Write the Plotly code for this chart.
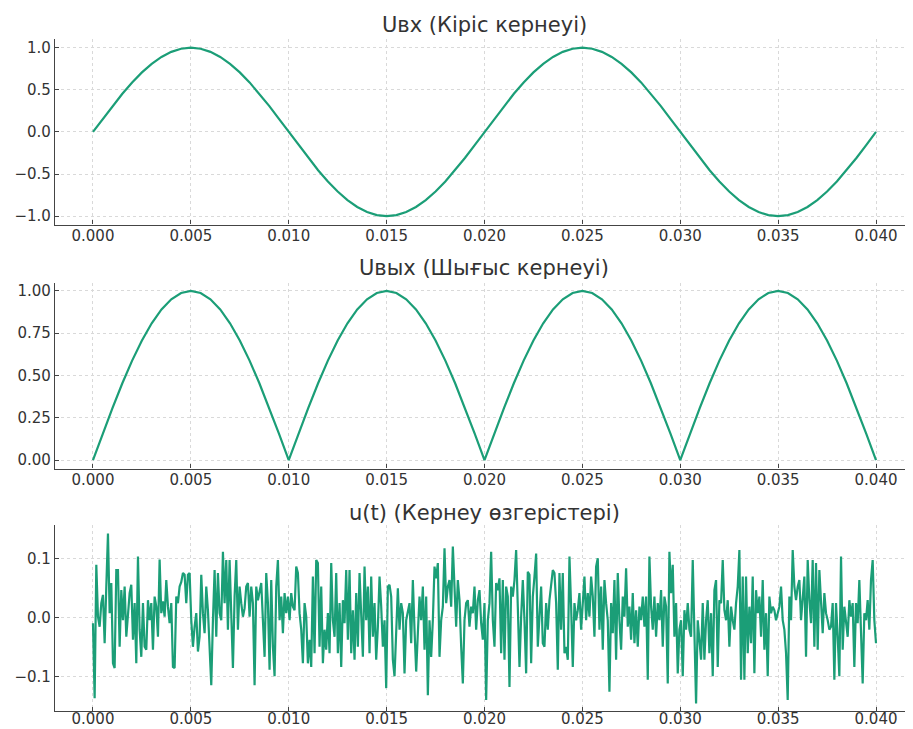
import numpy as np
import plotly.graph_objects as go

# ---------------- data ----------------
x_ticks = [0.000, 0.005, 0.010, 0.015, 0.020, 0.025, 0.030, 0.035, 0.040]
x_tick_labels = ["0.000", "0.005", "0.010", "0.015", "0.020", "0.025", "0.030", "0.035", "0.040"]

titles = ["Uвх (Кіріс кернеуі)", "Uвых (Шығыс кернеуі)", "u(t) (Кернеу өзгерістері)"]

# time samples for the two smooth curves (0 .. 0.04 s, step 0.0005)
t_smooth = [round(i * 0.0005, 4) for i in range(81)]

u_in = [0.0, 0.156, 0.309, 0.454, 0.588, 0.707, 0.809, 0.891, 0.951, 0.988,
        1.0, 0.988, 0.951, 0.891, 0.809, 0.707, 0.588, 0.454, 0.309, 0.156,
        0.0, -0.156, -0.309, -0.454, -0.588, -0.707, -0.809, -0.891, -0.951, -0.988,
        -1.0, -0.988, -0.951, -0.891, -0.809, -0.707, -0.588, -0.454, -0.309, -0.156,
        0.0, 0.156, 0.309, 0.454, 0.588, 0.707, 0.809, 0.891, 0.951, 0.988,
        1.0, 0.988, 0.951, 0.891, 0.809, 0.707, 0.588, 0.454, 0.309, 0.156,
        0.0, -0.156, -0.309, -0.454, -0.588, -0.707, -0.809, -0.891, -0.951, -0.988,
        -1.0, -0.988, -0.951, -0.891, -0.809, -0.707, -0.588, -0.454, -0.309, -0.156,
        0.0]

u_out = [0.0, 0.156, 0.309, 0.454, 0.588, 0.707, 0.809, 0.891, 0.951, 0.988,
         1.0, 0.988, 0.951, 0.891, 0.809, 0.707, 0.588, 0.454, 0.309, 0.156,
         0.0, 0.156, 0.309, 0.454, 0.588, 0.707, 0.809, 0.891, 0.951, 0.988,
         1.0, 0.988, 0.951, 0.891, 0.809, 0.707, 0.588, 0.454, 0.309, 0.156,
         0.0, 0.156, 0.309, 0.454, 0.588, 0.707, 0.809, 0.891, 0.951, 0.988,
         1.0, 0.988, 0.951, 0.891, 0.809, 0.707, 0.588, 0.454, 0.309, 0.156,
         0.0, 0.156, 0.309, 0.454, 0.588, 0.707, 0.809, 0.891, 0.951, 0.988,
         1.0, 0.988, 0.951, 0.891, 0.809, 0.707, 0.588, 0.454, 0.309, 0.156,
         0.0]

# noisy voltage variations, read left to right in four stretches
noise_part1 = [-0.01, -0.137, 0.089, 0.001, -0.016, 0.024, 0.038, -0.044, 0.052, 0.142,
               0.007, 0.058, -0.078, -0.086, 0.08, 0.08, -0.05, 0.046, -0.005, 0.052,
               -0.033, 0.012, 0.041, 0.055, -0.038, 0.024, -0.078, 0.103, -0.021, -0.067,
               0.024, -0.05, -0.055, 0.029, -0.005, 0.024, -0.055, 0.035, 0.018, -0.033,
               0.098, 0.007, 0.027, 0.001, 0.063, 0.018, -0.01, 0.024, -0.084, -0.086,
               0.035, 0.024, 0.052, 0.06, 0.075, 0.072, 0.024, 0.072, 0.075, -0.005,
               -0.05, -0.016, 0.007, -0.058, -0.033, 0.072, 0.007, -0.027, 0.052, 0.012,
               -0.055, -0.115, -0.005, 0.08, -0.033, 0.075, 0.007, -0.005, 0.111, 0.024,
               0.097, -0.021, 0.097, -0.005, -0.086, 0.035, 0.097, -0.021, 0.052, 0.024,
               0.001, 0.015, 0.052, 0.058, 0.001, 0.052, 0.024, -0.115, 0.052, 0.029,
               0.046, 0.058, -0.005, -0.067, 0.075, 0.024, -0.089, 0.063, -0.05, -0.1,
               0.052, 0.097, -0.005, 0.035, -0.027, 0.041, 0.007, 0.035, -0.005, 0.041]
noise_part2 = [0.018, 0.012, 0.086, 0.075, 0.007, -0.021, -0.078, 0.024, 0.001, -0.078,
               -0.038, -0.084, 0.069, -0.061, 0.097, 0.092, -0.05, 0.052, -0.078, -0.021,
               -0.055, 0.007, -0.061, 0.092, -0.005, -0.033, 0.075, -0.061, 0.024, -0.084,
               0.029, -0.01, 0.08, -0.038, 0.08, -0.061, 0.012, -0.072, 0.041, -0.05,
               0.075, -0.005, -0.067, 0.086, -0.005, 0.052, -0.061, 0.069, -0.033, 0.024,
               -0.072, -0.016, 0.069, 0.018, -0.05, -0.005, -0.12, 0.052, 0.055, 0.035,
               -0.072, -0.1, -0.005, 0.049, -0.021, 0.024, 0.007, -0.095, -0.005, 0.012,
               0.024, -0.044, 0.063, -0.021, -0.092, -0.027, 0.035, -0.005, 0.052, -0.055,
               0.035, -0.132, -0.005, -0.067, -0.005, 0.086, 0.066, 0.092, -0.067, -0.005,
               0.018, 0.117, 0.024, 0.052, 0.063, 0.018, 0.12, 0.052, -0.016, 0.063,
               0.029, -0.05, -0.112, -0.005, 0.024, 0.029, -0.016, 0.018, 0.007, 0.052,
               -0.021, 0.029, 0.046, -0.01, -0.038, 0.024, -0.14, -0.005, 0.024]
noise_part3 = [0.111, -0.005, -0.05, 0.058, 0.046, 0.066, -0.061, 0.063, -0.072, 0.052,
               0.035, -0.118, 0.052, 0.035, 0.063, 0.114, 0.018, -0.084, 0.001, 0.063,
               -0.005, -0.095, 0.077, 0.072, -0.078, 0.035, 0.069, 0.108, -0.05, 0.007,
               0.052, -0.044, -0.05, 0.024, -0.021, 0.029, 0.058, 0.08, 0.075, 0.024,
               -0.089, 0.075, -0.021, 0.075, -0.061, -0.05, -0.072, 0.103, 0.018, -0.084,
               0.024, -0.005, 0.012, 0.041, -0.021, 0.029, 0.069, -0.005, 0.041, 0.001,
               0.069, 0.035, -0.033, 0.086, 0.1, -0.021, 0.052, -0.055, 0.063, 0.024,
               -0.005, -0.126, 0.024, -0.027, 0.063, -0.072, 0.075, -0.005, -0.055, 0.035,
               0.001, 0.083, -0.016, 0.018, -0.038, 0.041, -0.044, 0.012, -0.05, 0.018,
               -0.005, 0.035, -0.016, 0.035, -0.106, 0.103, 0.018, -0.021, 0.035, -0.033,
               0.024, -0.005, 0.046, -0.05, 0.035, 0.018, -0.112, 0.111, 0.041, 0.089,
               -0.033, 0.024, -0.095, -0.021, -0.005, -0.1, 0.012, -0.021, 0.024, -0.021]
noise_part4 = [-0.033, 0.097, -0.027, -0.146, -0.005, -0.033, -0.072, 0.024, -0.072, -0.005,
               0.029, -0.061, 0.007, -0.1, 0.046, 0.063, -0.084, 0.029, 0.024, 0.097,
               0.012, -0.005, 0.029, -0.05, 0.018, -0.005, -0.021, 0.024, 0.052, 0.114,
               -0.106, 0.069, -0.106, 0.069, -0.061, 0.018, -0.044, 0.069, -0.095, 0.046,
               0.007, 0.035, -0.033, 0.063, -0.055, 0.007, -0.1, 0.035, 0.007, 0.018,
               0.012, -0.005, 0.007, 0.018, 0.052, -0.005, -0.021, -0.061, -0.14, 0.035,
               -0.005, 0.114, 0.052, 0.029, 0.052, 0.063, -0.005, 0.029, 0.069, -0.067,
               0.097, 0.029, -0.01, 0.097, -0.05, 0.092, -0.055, 0.08, 0.012, -0.027,
               0.041, 0.007, -0.005, -0.021, -0.016, 0.024, -0.106, 0.024, -0.033, -0.1,
               0.103, -0.055, 0.018, -0.005, -0.033, 0.029, 0.001, 0.024, -0.084, 0.024,
               -0.01, 0.063, -0.021, -0.112, 0.007, -0.005, 0.029, -0.021, 0.063, 0.097,
               -0.005, -0.044]

u_noise = noise_part1 + noise_part2 + noise_part3 + noise_part4
t_noise = np.linspace(0.0, 0.04, len(u_noise))

# ---------------- figure ----------------
PAGE_OFFSET = 8            # default body margin of the html page
W, H = 913 - PAGE_OFFSET, 729 - PAGE_OFFSET
color = "#1b9e77"
font_family = "DejaVu Sans, Arial, sans-serif"
text_color = "#333333"

fig = go.Figure()
fig.add_trace(go.Scatter(x=t_smooth, y=u_in, mode="lines",
                         line=dict(color=color, width=2.2), xaxis="x", yaxis="y",
                         showlegend=False))
fig.add_trace(go.Scatter(x=t_smooth, y=u_out, mode="lines",
                         line=dict(color=color, width=2.2), xaxis="x2", yaxis="y2",
                         showlegend=False))
fig.add_trace(go.Scatter(x=t_noise, y=u_noise, mode="lines",
                         line=dict(color=color, width=2.2), xaxis="x3", yaxis="y3",
                         showlegend=False))

x_range = [-0.00194, 0.04189]
x_domain = [(55 - PAGE_OFFSET) / W, 1.0]


def ydom(top_px, bottom_px):
    top_px -= PAGE_OFFSET
    bottom_px -= PAGE_OFFSET
    return [1 - bottom_px / H, 1 - top_px / H]


y_domains = [ydom(39.3, 224.6), ydom(282.5, 468.5), ydom(525, 711)]
y_ranges = [[-1.1, 1.1], [-0.05, 1.05], [-0.1588, 0.1564]]
y_ticks = [[-1.0, -0.5, 0.0, 0.5, 1.0], [0.0, 0.25, 0.5, 0.75, 1.0], [-0.1, 0.0, 0.1]]
y_fmt = [".1f", ".2f", ".1f"]
x_standoff = [-3, -3, -6]

common_axis = dict(
    showline=True, linecolor="#444444", linewidth=1.3, mirror=False,
    ticks="inside", ticklen=4, tickwidth=1, tickcolor="#444444",
    showgrid=True, gridcolor="#d9d9d9", gridwidth=1, griddash="dot",
    zeroline=False, automargin=False,
    tickfont=dict(family=font_family, size=15, color=text_color),
)

layout = dict(
    width=W, height=H,
    margin=dict(l=0, r=0, t=0, b=0),
    paper_bgcolor="white", plot_bgcolor="white",
    font=dict(family=font_family, color=text_color),
    showlegend=False,
)

for i in range(3):
    sfx = "" if i == 0 else str(i + 1)
    layout["xaxis" + sfx] = dict(
        common_axis, domain=x_domain, range=x_range,
        tickvals=x_ticks, ticktext=x_tick_labels,
        anchor="y" + sfx, ticklabelstandoff=x_standoff[i],
    )
    layout["yaxis" + sfx] = dict(
        common_axis, domain=y_domains[i], range=y_ranges[i],
        tickvals=y_ticks[i], tickformat=y_fmt[i],
        anchor="x" + sfx,
    )

fig.update_layout(**layout)

title_y_px = [25, 268, 513]
for i, txt in enumerate(titles):
    fig.add_annotation(
        text=txt, xref="paper", yref="paper",
        x=(x_domain[0] + x_domain[1]) / 2, y=1 - (title_y_px[i] - PAGE_OFFSET) / H,
        xanchor="center", yanchor="middle", showarrow=False,
        font=dict(family=font_family, size=21, color=text_color),
    )

fig.write_html("out.html")
